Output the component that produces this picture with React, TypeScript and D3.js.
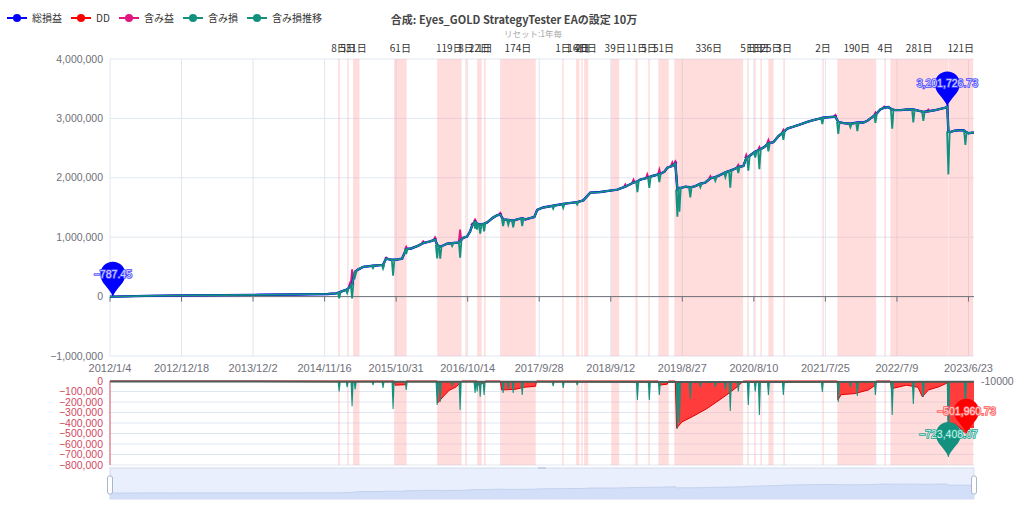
import React from 'react';
import * as d3 from 'd3';

// ---- data ----
const eqDates = [
  '2012/1/4', '2012/1/18', '2012/7/1', '2013/1/1', '2013/7/1', '2014/1/1', '2014/7/1', '2014/12/1',
  '2015/1/11', '2015/1/26', '2015/2/14', '2015/3/6', '2015/3/20', '2015/3/30', '2015/4/14', '2015/4/28',
  '2015/5/23', '2015/7/10', '2015/8/28', '2015/9/12', '2015/10/1', '2015/10/16', '2015/11/5', '2015/11/29',
  '2015/12/19', '2016/1/12', '2016/2/11', '2016/3/11', '2016/4/14', '2016/5/8', '2016/5/18', '2016/6/2',
  '2016/6/16', '2016/7/6', '2016/7/30', '2016/8/29', '2016/9/7', '2016/9/22', '2016/10/11', '2016/10/26',
  '2016/11/5', '2016/11/19', '2016/11/29', '2016/12/14', '2017/1/2', '2017/1/17', '2017/2/15', '2017/3/7',
  '2017/3/22', '2017/4/5', '2017/4/30', '2017/5/24', '2017/6/13', '2017/7/7', '2017/7/22', '2017/8/15',
  '2017/9/4', '2017/9/18', '2017/10/17', '2017/12/5', '2018/1/8', '2018/1/23', '2018/2/11', '2018/4/1',
  '2018/5/1', '2018/6/4', '2018/7/23', '2018/8/31', '2018/10/14', '2018/11/22', '2019/1/1', '2019/1/20',
  '2019/2/3', '2019/3/9', '2019/3/19', '2019/4/3', '2019/5/7', '2019/5/31', '2019/6/15', '2019/7/9',
  '2019/7/24', '2019/8/3', '2019/8/13', '2019/8/22', '2019/9/11', '2019/10/5', '2019/10/30', '2019/11/23',
  '2019/12/17', '2020/1/11', '2020/2/4', '2020/2/29', '2020/3/24', '2020/4/17', '2020/5/2', '2020/5/26',
  '2020/6/20', '2020/7/4', '2020/7/14', '2020/7/24', '2020/8/17', '2020/9/6', '2020/9/30', '2020/10/20',
  '2020/11/13', '2020/12/8', '2021/1/1', '2021/1/21', '2021/2/19', '2021/3/25', '2021/4/28', '2021/5/27',
  '2021/7/1', '2021/7/10', '2021/8/9', '2021/9/12', '2021/9/26', '2021/10/21', '2021/11/24', '2021/12/28',
  '2022/1/26', '2022/2/15', '2022/3/2', '2022/3/26', '2022/4/19', '2022/5/8', '2022/5/28', '2022/6/16',
  '2022/7/1', '2022/7/26', '2022/8/29', '2022/9/27', '2022/10/21', '2022/11/15', '2022/12/9', '2023/1/13',
  '2023/2/6', '2023/3/3', '2023/3/12', '2023/3/17', '2023/3/27', '2023/4/11', '2023/5/5', '2023/5/30',
  '2023/6/8', '2023/6/23', '2023/7/13', '2023/7/20',
];
const eqValues = [
  0, -787.45, 12000, 20000, 24000, 30000, 36000, 45000,
  55000, 70000, 95000, 120000, 170000, 210000, 420000, 455000,
  500000, 520000, 535000, 640000, 625000, 620000, 625000, 640000,
  800000, 810000, 850000, 900000, 930000, 960000, 870000, 840000,
  860000, 890000, 900000, 910000, 930000, 990000, 1010000, 1100000,
  1200000, 1260000, 1230000, 1210000, 1230000, 1250000, 1330000, 1370000,
  1380000, 1300000, 1290000, 1280000, 1300000, 1320000, 1300000, 1320000,
  1340000, 1460000, 1500000, 1530000, 1550000, 1560000, 1570000, 1590000,
  1620000, 1750000, 1760000, 1780000, 1800000, 1850000, 1920000, 1940000,
  1970000, 2000000, 2010000, 2030000, 2060000, 2100000, 2170000, 2200000,
  2240000, 1800000, 1830000, 1830000, 1850000, 1840000, 1860000, 1900000,
  1920000, 1990000, 2010000, 2050000, 2090000, 2120000, 2140000, 2180000,
  2200000, 2330000, 2350000, 2380000, 2440000, 2470000, 2520000, 2580000,
  2600000, 2700000, 2770000, 2830000, 2860000, 2900000, 2940000, 2970000,
  3000000, 3010000, 3020000, 3030000, 2940000, 2920000, 2910000, 2930000,
  2930000, 2960000, 3000000, 3060000, 3150000, 3180000, 3190000, 3150000,
  3140000, 3140000, 3150000, 3150000, 3130000, 3110000, 3120000, 3140000,
  3160000, 3180000, 3201726.73, 2780000, 2770000, 2790000, 2800000, 2800000,
  2780000, 2750000, 2760000, 2760000,
];

// unrealized profit (含み益) on top of the equity curve
const profitDates = [
  '2015/3/20', '2015/3/30', '2015/9/12', '2015/12/19', '2016/3/11', '2016/5/8', '2016/9/7', '2016/11/5',
  '2016/11/19', '2017/3/22', '2018/11/22', '2019/1/1', '2019/3/9', '2019/5/7', '2019/7/9', '2019/7/24',
  '2020/1/11', '2020/5/26', '2020/7/4', '2020/9/6', '2020/10/20', '2021/1/1', '2021/9/12', '2022/3/26',
  '2022/5/8', '2022/12/9',
];
const profitValues = [
  60000, 250000, 20000, 40000, 30000, 40000, 200000, 30000,
  40000, 30000, 40000, 50000, 60000, 80000, 60000, 40000,
  40000, 40000, 60000, 50000, 60000, 40000, 30000, 40000,
  20000, 30000,
];

// unrealized loss (含み損)
const lossDates = [
  '2015/1/26', '2015/3/6', '2015/3/30', '2015/4/14', '2015/7/10', '2015/8/28', '2015/10/16', '2015/12/19',
  '2016/5/18', '2016/6/2', '2016/7/30', '2016/9/7', '2016/11/19', '2016/11/29', '2016/12/14', '2017/1/2',
  '2017/4/5', '2017/4/30', '2017/5/24', '2017/7/7', '2017/12/5', '2018/1/23', '2018/4/1', '2019/1/20',
  '2019/3/19', '2019/5/7', '2019/8/3', '2019/8/13', '2019/10/5', '2019/11/23', '2020/2/4', '2020/3/24',
  '2020/4/17', '2020/5/26', '2020/7/14', '2020/8/17', '2020/9/6', '2020/10/20', '2021/1/1', '2021/7/10',
  '2021/9/26', '2021/11/24', '2021/12/28', '2022/3/26', '2022/6/16', '2022/9/27', '2022/11/15', '2023/3/17',
  '2023/6/8',
];
const lossValues = [
  -100000, -60000, -240000, -80000, -40000, -66000, -266000, -85000,
  -228000, -200000, -50000, -275000, -114000, -100000, -150000, -133000,
  -114000, -80000, -114000, -133000, -50000, -66000, -40000, -180000,
  -180000, -133000, -455000, -400000, -170000, -60000, -60000, -80000,
  -285000, -100000, -228000, -100000, -323000, -133000, -133000, -104000,
  -200000, -60000, -142000, -133000, -323000, -218000, -152000, -723408.07,
  -228000,
];

// drawdown (DD)
const ddDates = [
  '2012/1/4', '2015/10/21', '2015/10/26', '2015/12/15', '2015/12/19',
  '2016/5/18', '2016/5/20', '2016/6/16', '2016/7/15', '2016/8/20', '2016/9/15',
  '2016/11/29', '2016/12/1', '2016/12/20', '2017/1/10',
  '2017/3/22', '2017/3/28', '2017/6/1', '2017/7/15', '2017/9/10', '2017/9/15',
  '2019/5/2', '2019/5/5', '2019/6/15', '2019/6/20',
  '2019/7/24', '2019/7/30', '2019/8/25', '2019/10/15', '2019/12/25', '2020/2/10', '2020/3/30', '2020/5/20', '2020/6/20',
  '2021/9/21', '2021/9/24', '2021/10/10', '2021/12/15', '2022/2/20', '2022/3/25', '2022/3/30',
  '2022/6/7', '2022/6/12', '2022/8/25', '2022/10/20', '2022/11/10', '2022/12/10', '2023/1/30', '2023/3/10', '2023/3/12',
  '2023/3/17', '2023/4/20', '2023/6/13', '2023/7/1', '2023/7/20',
];
const ddValues = [
  0, 0, -40000, -35000, 0,
  0, -210000, -150000, -90000, -55000, 0,
  0, -40000, -30000, 0,
  0, -85000, -80000, -60000, -50000, 0,
  0, -40000, -30000, 0,
  0, -450000, -390000, -340000, -263000, -200000, -133000, -57000, 0,
  0, -180000, -130000, -120000, -85000, -40000, 0,
  0, -73000, -40000, -60000, -150000, -85000, -55000, -20000, 0,
  -420000, -410000, -501960.73, -440000, -440000,
];

// 含み損推移 (right axis)
const trendDates = ['2012/1/4', '2015/1/1', '2019/8/1', '2023/7/20'];
const trendValues = [-14000, -16000, -20000, -18000];

// drawdown periods
const bandStarts = [
  '2015/1/21', '2015/3/6', '2015/4/4', '2015/10/21', '2016/5/18', '2016/10/2', '2016/11/29', '2017/1/2',
  '2017/3/21', '2018/1/18', '2018/3/27', '2018/4/21', '2018/5/5', '2018/9/14', '2019/1/10', '2019/3/14',
  '2019/5/2', '2019/7/19', '2020/7/9', '2020/8/12', '2020/9/11', '2020/10/20', '2021/1/1', '2021/7/10',
  '2021/9/21', '2022/5/9', '2022/6/7', '2023/3/17',
];
const bandDays = [
  8, 5, 31, 61, 119, 8, 22, 1,
  174, 1, 16, 4, 20, 39, 11, 5,
  51, 336, 5, 1, 3, 25, 3, 2,
  190, 4, 281, 121,
];

const xTickLabels = [
  '2012/1/4', '2012/12/18', '2013/12/2', '2014/11/16', '2015/10/31', '2016/10/14', '2017/9/28',
  '2018/9/12', '2019/8/27', '2020/8/10', '2021/7/25', '2022/7/9', '2023/6/23',
];
const mainTicks = [4000000, 3000000, 2000000, 1000000, 0, -1000000];
const lowerTicks = [0, -100000, -200000, -300000, -400000, -500000, -600000, -700000, -800000];
const rightTicks = [-10000];

const legendNames = ['総損益', 'DD', '含み益', '含み損', '含み損推移'];
const legendColors = ['#0000ff', '#ff0000', '#e0177f', '#13907e', '#13907e'];
const legendTextW = [30, 14, 30, 30, 50];

// ---- helpers ----
const parse = d3.timeParse('%Y/%m/%d');
const fmt = d3.format(',');
const fmt2 = d3.format(',.2f');
const numFont = "'Liberation Sans', Arial, sans-serif";
const jpFont = "'Noto Sans CJK JP', 'Noto Sans', sans-serif";

const pinPath = (x: number, y: number, w = 25, h = 35) => {
  const r = w / 2;
  const cy = y - h + r;
  return `M${x},${y} C${x - r * 0.3},${y - h * 0.28} ${x - r},${cy + r * 0.75} ${x - r},${cy} A${r},${r} 0 1 1 ${x + r},${cy} C${x + r},${cy + r * 0.75} ${x + r * 0.3},${y - h * 0.28} ${x},${y} Z`;
};

export default function App() {
  const width = 1024;
  const height = 513;
  const left = 110;
  const right = 974;

  const x = d3.scaleTime().domain([parse('2012/1/4')!, parse('2023/7/20')!]).range([left, right]);
  const y = d3.scaleLinear().domain([-1000000, 4000000]).range([356, 59]);
  const yL = d3.scaleLinear().domain([-800000, 0]).range([465, 381]);
  const yR = d3.scaleLinear().domain([-800000, -10000]).range([465, 381]);

  const eq = eqDates.map((d, i) => ({ d: parse(d)!, v: eqValues[i] }));
  const eqByDate = new Map(eqDates.map((d, i) => [d, eqValues[i]]));
  const line = d3.line<{ d: Date; v: number }>().x((p) => x(p.d)).y((p) => y(p.v));

  const profitSpikes = profitDates.map((d, i) => {
    const base = eqByDate.get(d) ?? 0;
    const px = x(parse(d)!);
    return `M${px - 1.3},${y(base)} L${px},${y(base + profitValues[i])} L${px + 1.3},${y(base)}`;
  });
  const lossSpikes = lossDates.map((d, i) => {
    const base = eqByDate.get(d) ?? 0;
    const px = x(parse(d)!);
    return `M${px - 1.3},${y(base)} L${px},${y(base + lossValues[i])} L${px + 1.3},${y(base)}`;
  });
  const lowerSpikes = lossDates.map((d, i) => {
    const px = x(parse(d)!);
    const v = yL(lossValues[i]);
    return `M${px - 1.6},${yL(0)} L${px - 0.5},${v} L${px + 0.5},${v} L${px + 1.6},${yL(0)} Z`;
  });

  const dd = ddDates.map((d, i) => ({ d: parse(d)!, v: ddValues[i] }));
  const ddArea = d3
    .area<{ d: Date; v: number }>()
    .x((p) => x(p.d))
    .y0(yL(0))
    .y1((p) => yL(p.v));
  const ddLine = d3
    .line<{ d: Date; v: number }>()
    .x((p) => x(p.d))
    .y((p) => yL(p.v));

  const trend = d3
    .line<string>()
    .x((d) => x(parse(d)!))
    .y((_, i) => yR(trendValues[i]));

  const bands = bandStarts.map((s, i) => {
    const a = parse(s)!;
    const b = d3.timeDay.offset(a, bandDays[i]);
    const x0 = x(a);
    const w = Math.max(x(b) - x0, 1.5);
    return { x0, w, label: `${bandDays[i]}日` };
  });

  // slider data shadow
  const ys = d3.scaleLinear().domain([0, 3200000]).range([493, 484]);
  const shadowArea = d3
    .area<{ d: Date; v: number }>()
    .x((p) => x(p.d))
    .y0(499)
    .y1((p) => ys(p.v));
  const shadowLine = d3
    .line<{ d: Date; v: number }>()
    .x((p) => x(p.d))
    .y((p) => ys(p.v));

  // mark points
  const iMax = d3.maxIndex(eqValues);
  const iMin = d3.minIndex(eqValues);
  const iDD = d3.minIndex(ddValues);
  const iLoss = d3.minIndex(lossValues);
  const pins = [
    { px: x(parse(eqDates[iMin])!), py: y(eqValues[iMin]), v: eqValues[iMin], fill: '#0000ff', tf: '#d6d6ff', ts: '#4a4aff' },
    { px: x(parse(eqDates[iMax])!), py: y(eqValues[iMax]), v: eqValues[iMax], fill: '#0000ff', tf: '#d6d6ff', ts: '#4a4aff' },
    { px: x(parse(lossDates[iLoss])!), py: yL(lossValues[iLoss]), v: lossValues[iLoss], fill: '#13907e', tf: '#d4f1ea', ts: '#1aa38f' },
    { px: x(parse(ddDates[iDD])!), py: yL(ddValues[iDD]), v: ddValues[iDD], fill: '#ff0000', tf: '#ffd4d4', ts: '#ff5a5a' },
  ];

  // legend layout
  let lx = 7;
  const legend = legendNames.map((name, i) => {
    const item = { name, color: legendColors[i], x: lx };
    lx += 20 + 5 + legendTextW[i] + 9;
    return item;
  });

  const tickDates = xTickLabels.map((t) => parse(t)!);

  return (
    <svg width={width} height={height} style={{ position: 'absolute', left: 0, top: 0, background: '#fff' }}>
      {/* title */}
      <text x={514} y={24} textAnchor="middle" fontFamily={jpFont} fontSize={11} fontWeight="bold" fill="#464646">
        合成: Eyes_GOLD StrategyTester EAの設定 10万
      </text>
      <text x={533} y={37} textAnchor="middle" fontFamily={jpFont} fontSize={8.5} fill="#aaa">
        リセット:1年毎
      </text>

      {/* legend */}
      {legend.map((l) => (
        <g key={l.name}>
          <line x1={l.x} x2={l.x + 20} y1={18} y2={18} stroke={l.color} strokeWidth={2} />
          <circle cx={l.x + 10} cy={18} r={4} fill={l.color} />
          <text x={l.x + 25} y={21.5} fontFamily={jpFont} fontSize={10} fill="#333">
            {l.name}
          </text>
        </g>
      ))}

      {/* main grid */}
      {mainTicks.filter((t) => t !== 0).map((t) => (
        <line key={t} x1={left} x2={right} y1={y(t)} y2={y(t)} stroke="#e0e6f1" />
      ))}
      {tickDates.map((d, i) => (
        <line key={i} x1={x(d)} x2={x(d)} y1={y(4000000)} y2={y(-1000000)} stroke="#e0e6f1" />
      ))}
      {/* lower grid */}
      {lowerTicks.filter((t) => t !== 0).map((t) => (
        <line key={t} x1={left} x2={right} y1={yL(t)} y2={yL(t)} stroke="#e0e6f1" />
      ))}

      {/* drawdown periods */}
      {bands.map((b, i) => (
        <g key={i}>
          <rect x={b.x0} y={y(4000000)} width={b.w} height={y(-1000000) - y(4000000)} fill="rgba(255,160,160,0.36)" />
          <rect x={b.x0} y={yL(0)} width={b.w} height={yL(-800000) - yL(0)} fill="rgba(255,160,160,0.36)" />
          <text x={b.x0 + b.w / 2} y={51.5} textAnchor="middle" fontFamily={jpFont} fontSize={10} fill="#333">
            {b.label}
          </text>
        </g>
      ))}

      {/* main axes */}
      <line x1={left} x2={right} y1={y(0)} y2={y(0)} stroke="#6e7079" />
      {tickDates.map((d, i) => (
        <line key={i} x1={x(d)} x2={x(d)} y1={y(0)} y2={y(0) + 5} stroke="#6e7079" />
      ))}
      {mainTicks.map((t) => (
        <text key={t} x={103} y={y(t) + 3.5} textAnchor="end" fontFamily={numFont} fontSize={10.5} fill="#6e7079">
          {fmt(t)}
        </text>
      ))}
      {xTickLabels.map((t, i) => (
        <text key={t} x={x(tickDates[i])} y={372} textAnchor="middle" fontFamily={numFont} fontSize={11} fill="#6e7079">
          {t}
        </text>
      ))}

      {/* main series */}
      <g fill="none" stroke="#e0177f" strokeWidth={1.8}>
        <path d={line(eq)!} />
        {profitSpikes.map((p, i) => (
          <path key={i} d={p} />
        ))}
      </g>
      <path d={line(eq)!} fill="none" stroke="#0000ff" strokeWidth={2.4} />
      <g fill="none" stroke="#13907e" strokeWidth={1.8}>
        <path d={line(eq)!} />
        {lossSpikes.map((p, i) => (
          <path key={i} d={p} />
        ))}
      </g>

      {/* lower series */}
      <path d={ddArea(dd)!} fill="#ff2b2b" opacity={0.9} />
      <path d={ddLine(dd)!} fill="none" stroke="#e00000" strokeWidth={1} />
      {lowerSpikes.map((p, i) => (
        <path key={i} d={p} fill="#13907e" />
      ))}
      <path d={trend(trendDates)!} fill="none" stroke="#4f5b56" strokeWidth={2} />

      {/* lower axes */}
      <line x1={left} x2={left} y1={yL(0)} y2={yL(-800000)} stroke="#d14a61" />
      {lowerTicks.map((t) => (
        <text key={t} x={103} y={yL(t) + 3.5} textAnchor="end" fontFamily={numFont} fontSize={10.5} fill="#d14a61">
          {fmt(t)}
        </text>
      ))}
      {rightTicks.map((t) => (
        <text key={t} x={981} y={yR(t) + 3.5} fontFamily={numFont} fontSize={10.5} fill="#6e7079">
          {t}
        </text>
      ))}

      {/* slider */}
      <rect x={left} y={468} width={right - left} height={31} fill="#e9effc" stroke="#d2dbee" />
      <path d={shadowArea(eq)!} fill="#d3dff8" />
      <path d={shadowLine(eq)!} fill="none" stroke="#bccbeb" strokeWidth={0.8} />
      <rect x={(left + right) / 2 - 4} y={467} width={8} height={2} fill="#c8d3ea" />
      {[left, right].map((hx) => (
        <rect key={hx} x={hx - 2.5} y={476} width={5} height={18} rx={2} fill="#fff" stroke="#a7b7cc" />
      ))}

      {/* mark points */}
      {pins.map((p, i) => (
        <g key={i}>
          <path d={pinPath(p.px, p.py)} fill={p.fill} />
          <text
            x={p.px}
            y={p.py - 22.5 + 3.5}
            textAnchor="middle"
            fontFamily={numFont}
            fontSize={10.5}
            fill={p.tf}
            stroke={p.ts}
            strokeWidth={1.6}
            style={{ paintOrder: 'stroke' }}
          >
            {fmt2(p.v)}
          </text>
        </g>
      ))}
    </svg>
  );
}
